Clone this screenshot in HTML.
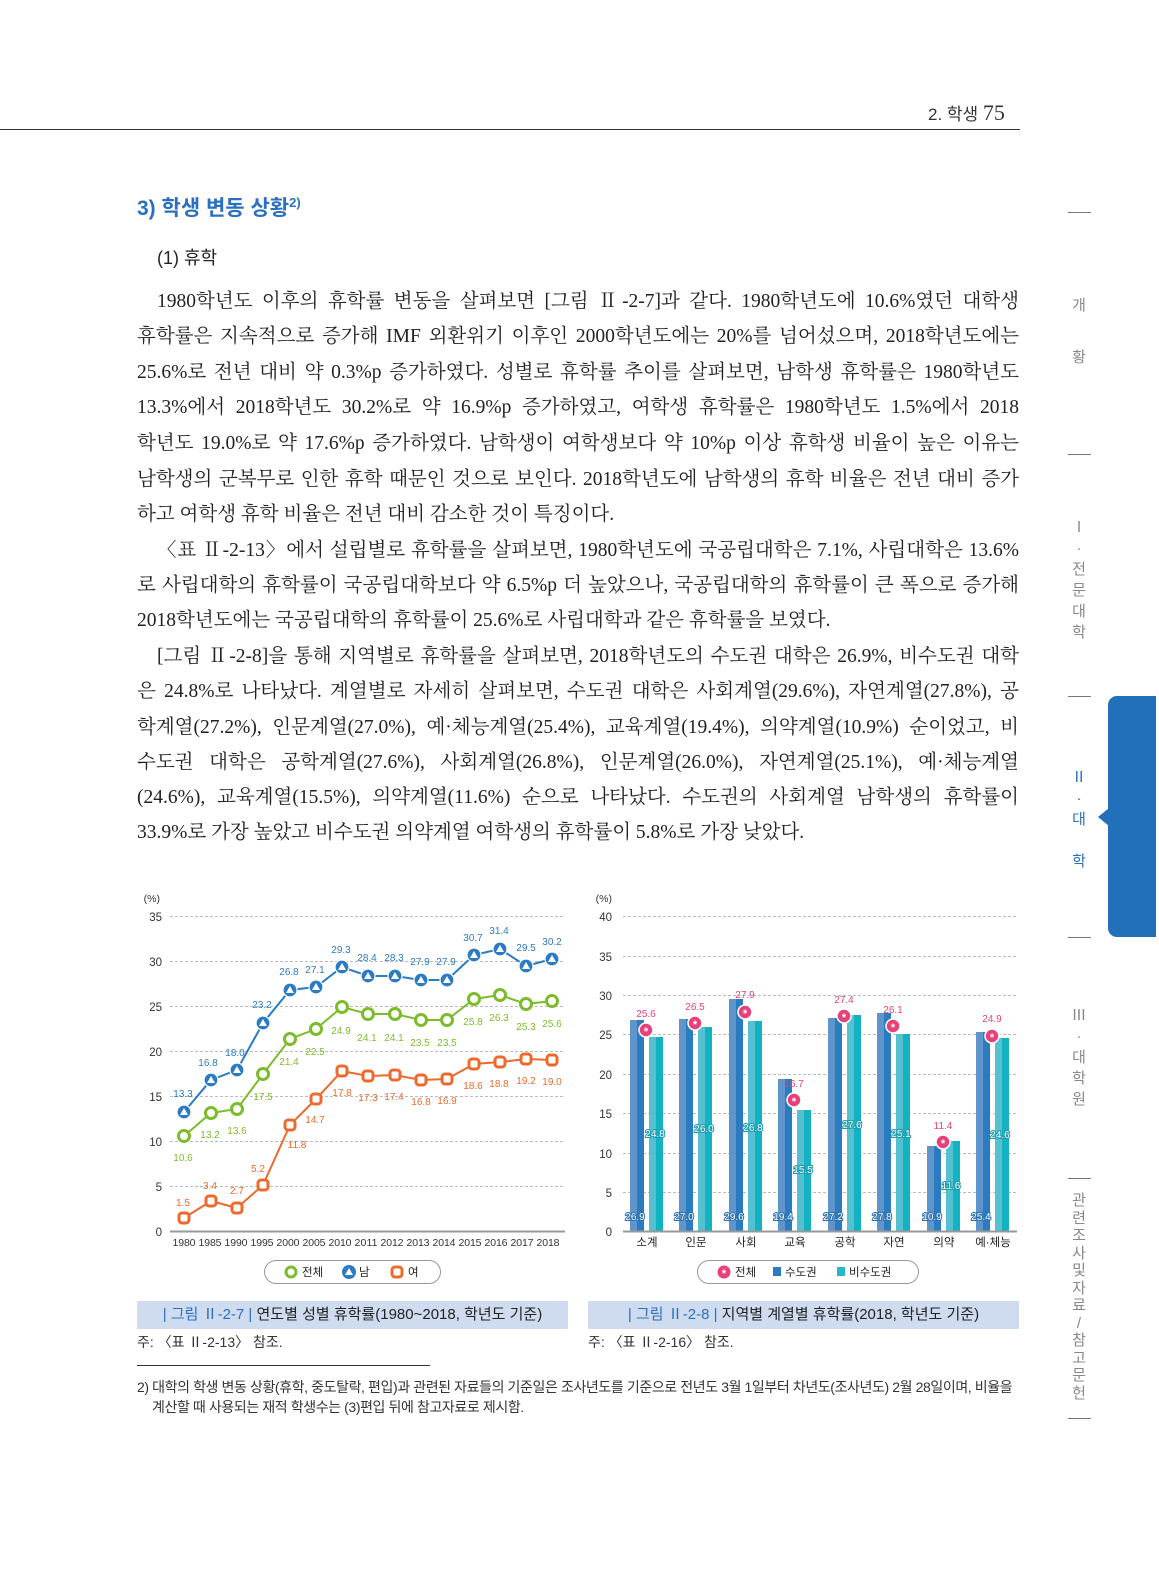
<!DOCTYPE html>
<html><head><meta charset="utf-8">
<style>
body{margin:0;width:1159px;height:1571px;background:#fff;position:relative;overflow:hidden;font-family:"Liberation Sans","Noto Sans CJK KR",sans-serif;}
.a{position:absolute;white-space:nowrap;}
.ln{position:absolute;left:137px;width:882px;height:28px;line-height:28px;font-family:"Liberation Serif","Noto Serif CJK SC",serif;font-size:19.5px;color:#222;text-align:justify;text-align-last:justify;white-space:nowrap;}
.ln.l{text-align-last:left;}
.ln.i{left:157px;width:862px;}
.sl{position:absolute;left:1068px;width:23px;height:1px;background:#777;}
.st{position:absolute;left:1071px;width:16px;text-align:center;font-size:15px;color:#888;line-height:21px;}
.cap{position:absolute;top:1301px;height:28px;line-height:28px;background:#cfdcf0;font-size:15px;color:#222;text-align:center;}
.cap b{color:#2a6fc0;font-weight:normal;}
</style></head><body>
<div class="a" style="left:0;top:129px;width:1020px;height:1px;background:#333"></div>
<div class="a" style="left:928px;top:100px;font-size:17px;color:#333">2. 학생 <span style="font-size:22px;font-family:'Liberation Serif',serif">75</span></div>
<div class="a" style="left:137px;top:192px;font-size:21px;color:#2a6fc0;font-weight:bold">3) 학생 변동 상황<sup style="font-size:13px">2)</sup></div>
<div class="a" style="left:157px;top:244px;font-size:18px;color:#222">(1) 휴학</div>

<div class="ln i" style="top:288px">1980학년도 이후의 휴학률 변동을 살펴보면 [그림 Ⅱ-2-7]과 같다. 1980학년도에 10.6%였던 대학생</div>
<div class="ln" style="top:323px">휴학률은 지속적으로 증가해 IMF 외환위기 이후인 2000학년도에는 20%를 넘어섰으며, 2018학년도에는</div>
<div class="ln" style="top:359px">25.6%로 전년 대비 약 0.3%p 증가하였다. 성별로 휴학률 추이를 살펴보면, 남학생 휴학률은 1980학년도</div>
<div class="ln" style="top:394px">13.3%에서 2018학년도 30.2%로 약 16.9%p 증가하였고, 여학생 휴학률은 1980학년도 1.5%에서 2018</div>
<div class="ln" style="top:430px">학년도 19.0%로 약 17.6%p 증가하였다. 남학생이 여학생보다 약 10%p 이상 휴학생 비율이 높은 이유는</div>
<div class="ln" style="top:466px">남학생의 군복무로 인한 휴학 때문인 것으로 보인다. 2018학년도에 남학생의 휴학 비율은 전년 대비 증가</div>
<div class="ln l" style="top:501px">하고 여학생 휴학 비율은 전년 대비 감소한 것이 특징이다.</div>
<div class="ln i" style="top:537px">〈표 Ⅱ-2-13〉에서 설립별로 휴학률을 살펴보면, 1980학년도에 국공립대학은 7.1%, 사립대학은 13.6%</div>
<div class="ln" style="top:572px">로 사립대학의 휴학률이 국공립대학보다 약 6.5%p 더 높았으나, 국공립대학의 휴학률이 큰 폭으로 증가해</div>
<div class="ln l" style="top:607px">2018학년도에는 국공립대학의 휴학률이 25.6%로 사립대학과 같은 휴학률을 보였다.</div>
<div class="ln i" style="top:643px">[그림 Ⅱ-2-8]을 통해 지역별로 휴학률을 살펴보면, 2018학년도의 수도권 대학은 26.9%, 비수도권 대학</div>
<div class="ln" style="top:678px">은 24.8%로 나타났다. 계열별로 자세히 살펴보면, 수도권 대학은 사회계열(29.6%), 자연계열(27.8%), 공</div>
<div class="ln" style="top:714px">학계열(27.2%), 인문계열(27.0%), 예·체능계열(25.4%), 교육계열(19.4%), 의약계열(10.9%) 순이었고, 비</div>
<div class="ln" style="top:749px">수도권 대학은 공학계열(27.6%), 사회계열(26.8%), 인문계열(26.0%), 자연계열(25.1%), 예·체능계열</div>
<div class="ln" style="top:784px">(24.6%), 교육계열(15.5%), 의약계열(11.6%) 순으로 나타났다. 수도권의 사회계열 남학생의 휴학률이</div>
<div class="ln l" style="top:819px">33.9%로 가장 높았고 비수도권 의약계열 여학생의 휴학률이 5.8%로 가장 낮았다.</div>

<!-- sidebar -->
<div class="sl" style="top:212px"></div><div class="sl" style="top:454px"></div><div class="sl" style="top:696px"></div>
<div class="sl" style="top:937px"></div><div class="sl" style="top:1178px"></div><div class="sl" style="top:1418px"></div>
<div class="st" style="top:295px">개</div><div class="st" style="top:347px">황</div>
<div class="st" style="top:517px">Ⅰ<br>·<br>전<br>문<br>대<br>학</div>
<div class="st" style="top:767px;color:#2a6fc0">Ⅱ<br>·<br>대<br><br>학</div>
<div class="st" style="top:1005px">Ⅲ<br>·<br>대<br>학<br>원</div>
<div class="st" style="top:1192px;line-height:17.5px">관<br>련<br>조<br>사<br>및<br>자<br>료<br>/<br>참<br>고<br>문<br>헌</div>
<div class="a" style="left:1108px;top:696px;width:48px;height:241px;background:#2270b9;border-radius:9px 0 0 9px"></div>
<div class="a" style="left:1098px;top:808px;width:0;height:0;border-top:9px solid transparent;border-bottom:9px solid transparent;border-right:11px solid #2270b9"></div>

<svg class="a" style="left:0;top:0" width="1159" height="1571" font-family="Liberation Sans, Noto Sans CJK KR, sans-serif">
<g stroke="#bbb" stroke-dasharray="3,2" stroke-width="1">
<line x1="170" y1="916.5" x2="565" y2="916.5"/><line x1="170" y1="961.5" x2="565" y2="961.5"/><line x1="170" y1="1006.5" x2="565" y2="1006.5"/><line x1="170" y1="1051.5" x2="565" y2="1051.5"/><line x1="170" y1="1096.5" x2="565" y2="1096.5"/><line x1="170" y1="1141.5" x2="565" y2="1141.5"/><line x1="170" y1="1186.5" x2="565" y2="1186.5"/>
</g>
<line x1="170" y1="1231.5" x2="565" y2="1231.5" stroke="#999" stroke-width="2"/>
<g font-size="11.5" fill="#333" text-anchor="end">
<text x="160" y="902" font-size="10.5">(%)</text>
<text x="162" y="921">35</text><text x="162" y="966">30</text><text x="162" y="1011">25</text><text x="162" y="1056">20</text><text x="162" y="1101">15</text><text x="162" y="1146">10</text><text x="162" y="1191">5</text><text x="162" y="1236">0</text>
</g>
<g font-size="10.5" fill="#333" text-anchor="middle">
<text x="184" y="1246" textLength="23">1980</text><text x="210" y="1246" textLength="23">1985</text><text x="236" y="1246" textLength="23">1990</text><text x="262" y="1246" textLength="23">1995</text><text x="288" y="1246" textLength="23">2000</text><text x="314" y="1246" textLength="23">2005</text><text x="340" y="1246" textLength="23">2010</text><text x="366" y="1246" textLength="23">2011</text><text x="392" y="1246" textLength="23">2012</text><text x="418" y="1246" textLength="23">2013</text><text x="444" y="1246" textLength="23">2014</text><text x="470" y="1246" textLength="23">2015</text><text x="496" y="1246" textLength="23">2016</text><text x="522" y="1246" textLength="23">2017</text><text x="548" y="1246" textLength="23">2018</text>
</g>
<!-- 남 -->
<polyline fill="none" stroke="#2a7bc4" stroke-width="2" points="184,1112 211,1080 237,1070 263,1023 290,990 316,987 342,967 368,976 395,976 421,980 447,980 474,955 500,949 526,966 552,959"/>
<g fill="#2a7bc4" stroke="#fff" stroke-width="1.2">
<circle cx="184" cy="1112" r="7"/><circle cx="211" cy="1080" r="7"/><circle cx="237" cy="1070" r="7"/><circle cx="263" cy="1023" r="7"/><circle cx="290" cy="990" r="7"/><circle cx="316" cy="987" r="7"/><circle cx="342" cy="967" r="7"/><circle cx="368" cy="976" r="7"/><circle cx="395" cy="976" r="7"/><circle cx="421" cy="980" r="7"/><circle cx="447" cy="980" r="7"/><circle cx="474" cy="955" r="7"/><circle cx="500" cy="949" r="7"/><circle cx="526" cy="966" r="7"/><circle cx="552" cy="959" r="7"/>
</g>
<g fill="#fff">
<polygon points="184,1108 188,1115 180,1115"/><polygon points="211,1076 215,1083 207,1083"/><polygon points="237,1066 241,1073 233,1073"/><polygon points="263,1019 267,1026 259,1026"/><polygon points="290,986 294,993 286,993"/><polygon points="316,983 320,990 312,990"/><polygon points="342,963 346,970 338,970"/><polygon points="368,972 372,979 364,979"/><polygon points="395,972 399,979 391,979"/><polygon points="421,976 425,983 417,983"/><polygon points="447,976 451,983 443,983"/><polygon points="474,951 478,958 470,958"/><polygon points="500,945 504,952 496,952"/><polygon points="526,962 530,969 522,969"/><polygon points="552,955 556,962 548,962"/>
</g>
<!-- 전체 -->
<polyline fill="none" stroke="#7cbc2c" stroke-width="2" points="184,1136 211,1113 237,1109 263,1074 290,1039 316,1029 342,1007 368,1014 395,1014 421,1020 447,1020 474,999 500,995 526,1004 552,1001"/>
<g fill="#fff" stroke="#7cbc2c" stroke-width="3">
<circle cx="184" cy="1136" r="5.5"/><circle cx="211" cy="1113" r="5.5"/><circle cx="237" cy="1109" r="5.5"/><circle cx="263" cy="1074" r="5.5"/><circle cx="290" cy="1039" r="5.5"/><circle cx="316" cy="1029" r="5.5"/><circle cx="342" cy="1007" r="5.5"/><circle cx="368" cy="1014" r="5.5"/><circle cx="395" cy="1014" r="5.5"/><circle cx="421" cy="1020" r="5.5"/><circle cx="447" cy="1020" r="5.5"/><circle cx="474" cy="999" r="5.5"/><circle cx="500" cy="995" r="5.5"/><circle cx="526" cy="1004" r="5.5"/><circle cx="552" cy="1001" r="5.5"/>
</g>
<!-- 여 -->
<polyline fill="none" stroke="#ec6a2e" stroke-width="2" points="184,1218 211,1201 237,1208 263,1185 290,1125 316,1099 342,1071 368,1076 395,1075 421,1080 447,1079 474,1064 500,1062 526,1059 552,1060"/>
<g fill="#fff" stroke="#ec6a2e" stroke-width="3">
<rect x="179" y="1213" width="10" height="10" rx="3"/><rect x="206" y="1196" width="10" height="10" rx="3"/><rect x="232" y="1203" width="10" height="10" rx="3"/><rect x="258" y="1180" width="10" height="10" rx="3"/><rect x="285" y="1120" width="10" height="10" rx="3"/><rect x="311" y="1094" width="10" height="10" rx="3"/><rect x="337" y="1066" width="10" height="10" rx="3"/><rect x="363" y="1071" width="10" height="10" rx="3"/><rect x="390" y="1070" width="10" height="10" rx="3"/><rect x="416" y="1075" width="10" height="10" rx="3"/><rect x="442" y="1074" width="10" height="10" rx="3"/><rect x="469" y="1059" width="10" height="10" rx="3"/><rect x="495" y="1057" width="10" height="10" rx="3"/><rect x="521" y="1054" width="10" height="10" rx="3"/><rect x="547" y="1055" width="10" height="10" rx="3"/>
</g>
<g font-size="10" text-anchor="middle" fill="#2a7bc4">
<text x="183" y="1097">13.3</text><text x="208" y="1066">16.8</text><text x="235" y="1056">18.0</text><text x="262" y="1008">23.2</text><text x="289" y="975">26.8</text><text x="315" y="973">27.1</text><text x="341" y="953">29.3</text><text x="367" y="961">28.4</text><text x="394" y="961">28.3</text><text x="420" y="965">27.9</text><text x="446" y="965">27.9</text><text x="473" y="941">30.7</text><text x="499" y="934">31.4</text><text x="526" y="951">29.5</text><text x="552" y="945">30.2</text>
</g>
<g font-size="10" text-anchor="middle" fill="#7cbc2c">
<text x="183" y="1161">10.6</text><text x="210" y="1138">13.2</text><text x="237" y="1134">13.6</text><text x="263" y="1100">17.5</text><text x="289" y="1065">21.4</text><text x="315" y="1055">22.5</text><text x="341" y="1034">24.9</text><text x="367" y="1041">24.1</text><text x="394" y="1041">24.1</text><text x="420" y="1046">23.5</text><text x="447" y="1046">23.5</text><text x="473" y="1025">25.8</text><text x="499" y="1021">26.3</text><text x="526" y="1030">25.3</text><text x="552" y="1027">25.6</text>
</g>
<g font-size="10" text-anchor="middle" fill="#ec6a2e">
<text x="183" y="1206">1.5</text><text x="210" y="1189">3.4</text><text x="237" y="1194">2.7</text><text x="258" y="1172">5.2</text><text x="297" y="1148">11.8</text><text x="315" y="1123">14.7</text><text x="342" y="1096">17.8</text><text x="368" y="1101">17.3</text><text x="394" y="1100">17.4</text><text x="421" y="1105">16.8</text><text x="447" y="1104">16.9</text><text x="473" y="1089">18.6</text><text x="499" y="1087">18.8</text><text x="526" y="1084">19.2</text><text x="552" y="1085">19.0</text>
</g>
<rect x="264.5" y="1260.5" width="176" height="23" rx="11.5" fill="#fff" stroke="#999"/>
<circle cx="291" cy="1272" r="5" fill="#fff" stroke="#7cbc2c" stroke-width="3"/>
<circle cx="349" cy="1272" r="7" fill="#2a7bc4"/><polygon points="349,1268 353,1275 345,1275" fill="#fff"/>
<rect x="392" y="1267" width="10" height="10" rx="3" fill="#fff" stroke="#ec6a2e" stroke-width="3"/>
<g font-size="11.5" fill="#222"><text x="302" y="1276">전체</text><text x="359" y="1276">남</text><text x="408" y="1276">여</text></g>

<!-- right chart -->
<g stroke="#bbb" stroke-dasharray="3,2" stroke-width="1">
<line x1="623" y1="916.5" x2="1017" y2="916.5"/><line x1="623" y1="956.5" x2="1017" y2="956.5"/><line x1="623" y1="995.5" x2="1017" y2="995.5"/><line x1="623" y1="1034.5" x2="1017" y2="1034.5"/><line x1="623" y1="1074.5" x2="1017" y2="1074.5"/><line x1="623" y1="1113.5" x2="1017" y2="1113.5"/><line x1="623" y1="1153.5" x2="1017" y2="1153.5"/><line x1="623" y1="1192.5" x2="1017" y2="1192.5"/>
</g>
<g font-size="11.5" fill="#333" text-anchor="end">
<text x="612" y="902" font-size="10.5">(%)</text>
<text x="612" y="921">40</text><text x="612" y="961">35</text><text x="612" y="1000">30</text><text x="612" y="1039">25</text><text x="612" y="1079">20</text><text x="612" y="1118">15</text><text x="612" y="1158">10</text><text x="612" y="1197">5</text><text x="612" y="1236">0</text>
</g>
<g>
<rect x="630" y="1020" width="7" height="212" fill="#5f95cb"/><rect x="637" y="1020" width="7" height="212" fill="#2a7bc0"/>
<rect x="649" y="1037" width="7" height="195" fill="#55c0d0"/><rect x="656" y="1037" width="7" height="195" fill="#12b2c2"/>
<rect x="679" y="1019" width="7" height="213" fill="#5f95cb"/><rect x="686" y="1019" width="7" height="213" fill="#2a7bc0"/>
<rect x="698" y="1027" width="7" height="205" fill="#55c0d0"/><rect x="705" y="1027" width="7" height="205" fill="#12b2c2"/>
<rect x="729" y="999" width="7" height="233" fill="#5f95cb"/><rect x="736" y="999" width="7" height="233" fill="#2a7bc0"/>
<rect x="748" y="1021" width="7" height="211" fill="#55c0d0"/><rect x="755" y="1021" width="7" height="211" fill="#12b2c2"/>
<rect x="778" y="1079" width="7" height="153" fill="#5f95cb"/><rect x="785" y="1079" width="7" height="153" fill="#2a7bc0"/>
<rect x="797" y="1110" width="7" height="122" fill="#55c0d0"/><rect x="804" y="1110" width="7" height="122" fill="#12b2c2"/>
<rect x="828" y="1018" width="7" height="214" fill="#5f95cb"/><rect x="835" y="1018" width="7" height="214" fill="#2a7bc0"/>
<rect x="847" y="1015" width="7" height="217" fill="#55c0d0"/><rect x="854" y="1015" width="7" height="217" fill="#12b2c2"/>
<rect x="877" y="1013" width="7" height="219" fill="#5f95cb"/><rect x="884" y="1013" width="7" height="219" fill="#2a7bc0"/>
<rect x="896" y="1034" width="7" height="198" fill="#55c0d0"/><rect x="903" y="1034" width="7" height="198" fill="#12b2c2"/>
<rect x="927" y="1146" width="7" height="86" fill="#5f95cb"/><rect x="934" y="1146" width="7" height="86" fill="#2a7bc0"/>
<rect x="946" y="1141" width="7" height="91" fill="#55c0d0"/><rect x="953" y="1141" width="7" height="91" fill="#12b2c2"/>
<rect x="976" y="1032" width="7" height="200" fill="#5f95cb"/><rect x="983" y="1032" width="7" height="200" fill="#2a7bc0"/>
<rect x="995" y="1038" width="7" height="194" fill="#55c0d0"/><rect x="1002" y="1038" width="7" height="194" fill="#12b2c2"/>
</g>
<line x1="623" y1="1231.5" x2="1017" y2="1231.5" stroke="#999" stroke-width="2"/>
<g font-size="10" text-anchor="middle" fill="#fff" stroke="#2a6fb0" stroke-width="2" paint-order="stroke">
<text x="635" y="1220">26.9</text><text x="684" y="1220">27.0</text><text x="734" y="1220">29.6</text><text x="783" y="1220">19.4</text><text x="833" y="1220">27.2</text><text x="882" y="1220">27.8</text><text x="932" y="1220">10.9</text><text x="981" y="1220">25.4</text>
<text x="655" y="1137" stroke="#1a9aaa">24.8</text><text x="704" y="1132" stroke="#1a9aaa">26.0</text><text x="753" y="1131" stroke="#1a9aaa">26.8</text><text x="803" y="1173" stroke="#1a9aaa">15.5</text><text x="852" y="1128" stroke="#1a9aaa">27.6</text><text x="901" y="1137" stroke="#1a9aaa">25.1</text><text x="951" y="1189" stroke="#1a9aaa">11.6</text><text x="1000" y="1138" stroke="#1a9aaa">24.6</text>
</g>
<g fill="#e8407a" stroke="#fff" stroke-width="1.5">
<circle cx="646" cy="1030" r="7"/><circle cx="695" cy="1023" r="7"/><circle cx="745" cy="1012" r="7"/><circle cx="794" cy="1100" r="7"/><circle cx="844" cy="1016" r="7"/><circle cx="893" cy="1026" r="7"/><circle cx="943" cy="1142" r="7"/><circle cx="992" cy="1036" r="7"/>
</g>
<g font-size="11" font-weight="bold" fill="#fff" text-anchor="middle">
<text x="646" y="1035">*</text><text x="695" y="1028">*</text><text x="745" y="1017">*</text><text x="794" y="1105">*</text><text x="844" y="1021">*</text><text x="893" y="1031">*</text><text x="943" y="1147">*</text><text x="992" y="1041">*</text>
</g>
<g font-size="10" text-anchor="middle" fill="#e8407a">
<text x="646" y="1017">25.6</text><text x="695" y="1010">26.5</text><text x="745" y="998">27.9</text><text x="794" y="1087">16.7</text><text x="844" y="1003">27.4</text><text x="893" y="1013">26.1</text><text x="943" y="1129">11.4</text><text x="992" y="1022">24.9</text>
</g>
<g font-size="11.5" fill="#222" text-anchor="middle">
<text x="647" y="1246">소계</text><text x="696" y="1246">인문</text><text x="746" y="1246">사회</text><text x="795" y="1246">교육</text><text x="845" y="1246">공학</text><text x="894" y="1246">자연</text><text x="944" y="1246">의약</text><text x="993" y="1246">예·체능</text>
</g>
<rect x="697.5" y="1260.5" width="221" height="23" rx="11.5" fill="#fff" stroke="#999"/>
<circle cx="724" cy="1272" r="6.5" fill="#e8407a"/><text x="724" y="1277" font-size="11" font-weight="bold" fill="#fff" text-anchor="middle">*</text>
<rect x="773" y="1267" width="8" height="9" fill="#2a7bc0"/>
<rect x="837" y="1267" width="8" height="9" fill="#28b7c8"/>
<g font-size="11.5" fill="#222"><text x="735" y="1276">전체</text><text x="785" y="1276">수도권</text><text x="849" y="1276">비수도권</text></g>
</svg>

<div class="cap" style="left:137px;width:431px"><b>| 그림 Ⅱ-2-7 |</b> 연도별 성별 휴학률(1980~2018, 학년도 기준)</div>
<div class="cap" style="left:588px;width:431px"><b>| 그림 Ⅱ-2-8 |</b> 지역별 계열별 휴학률(2018, 학년도 기준)</div>
<div class="a" style="left:137px;top:1332px;font-size:14px;color:#333">주: 〈표 Ⅱ-2-13〉 참조.</div>
<div class="a" style="left:588px;top:1332px;font-size:14px;color:#333">주: 〈표 Ⅱ-2-16〉 참조.</div>
<div class="a" style="left:137px;top:1365px;width:293px;height:1px;background:#333"></div>
<div class="a" style="left:137px;top:1377px;font-size:14px;color:#333;letter-spacing:-0.4px">2) 대학의 학생 변동 상황(휴학, 중도탈락, 편입)과 관련된 자료들의 기준일은 조사년도를 기준으로 전년도 3월 1일부터 차년도(조사년도) 2월 28일이며, 비율을</div>
<div class="a" style="left:152px;top:1397px;font-size:14px;color:#333;letter-spacing:-0.4px">계산할 때 사용되는 재적 학생수는 (3)편입 뒤에 참고자료로 제시함.</div>
</body></html>
